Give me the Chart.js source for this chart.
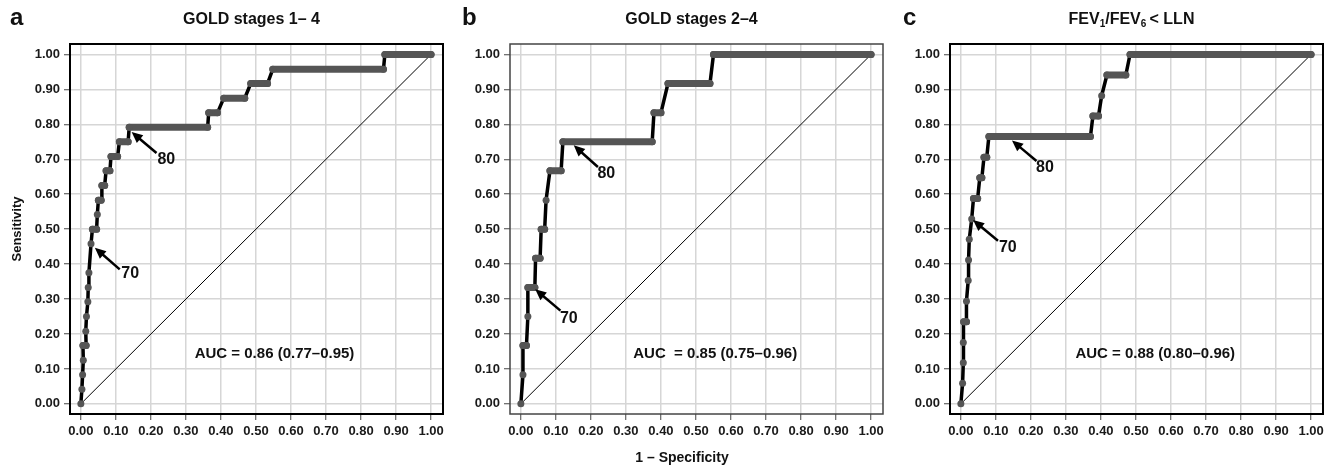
<!DOCTYPE html>
<html>
<head>
<meta charset="utf-8">
<script src="https://cdn.jsdelivr.net/npm/chart.js@4/dist/chart.umd.min.js"></script>
<style>
html, body { margin: 0; padding: 0; background: #fff; }
body { width: 1337px; height: 468px; position: relative; overflow: hidden; }
canvas { position: absolute; top: 0; }
</style>
</head>
<body>
<canvas id="chartA" width="451" height="468" style="left:0px"></canvas>
<canvas id="chartB" width="451" height="468" style="left:440px"></canvas>
<canvas id="chartC" width="451" height="468" style="left:880px"></canvas>
<script>
"use strict";

/*******************
	DATA
*******************/

var tickValues = [0, 0.1, 0.2, 0.3, 0.4, 0.5, 0.6, 0.7, 0.8, 0.9, 1.0];
var diagFpr = [0, 1];
var diagTpr = [0, 1];

// a: GOLD stages 1-4 (1 - specificity, sensitivity)
var fprA = [0, 0.003, 0.005, 0.007, 0.006, 0.015, 0.014, 0.016, 0.02, 0.021, 0.023, 0.029,
	0.033, 0.045, 0.047, 0.05, 0.058, 0.06, 0.068, 0.072, 0.083, 0.086, 0.105, 0.11, 0.135,
	0.138, 0.362, 0.365, 0.39, 0.408, 0.468, 0.485, 0.533, 0.548, 0.864, 0.868, 1.0];
var tprA = [0, 0.042, 0.083, 0.125, 0.167, 0.167, 0.208, 0.25, 0.292, 0.333, 0.375, 0.458,
	0.5, 0.5, 0.542, 0.583, 0.583, 0.625, 0.625, 0.667, 0.667, 0.708, 0.708, 0.75, 0.75,
	0.792, 0.792, 0.833, 0.833, 0.875, 0.875, 0.917, 0.917, 0.958, 0.958, 1.0, 1.0];

// b: GOLD stages 2-4
var fprB = [0, 0.006, 0.006, 0.016, 0.02, 0.02, 0.04, 0.042, 0.055, 0.058, 0.068, 0.072,
	0.083, 0.115, 0.12, 0.375, 0.38, 0.40, 0.42, 0.54, 0.55, 1.0];
var tprB = [0, 0.083, 0.167, 0.167, 0.25, 0.333, 0.333, 0.417, 0.417, 0.5, 0.5, 0.583,
	0.667, 0.667, 0.75, 0.75, 0.833, 0.833, 0.917, 0.917, 1.0, 1.0];

// c: FEV1/FEV6 < LLN
var fprC = [0, 0.005, 0.007, 0.007, 0.008, 0.016, 0.016, 0.021, 0.022, 0.024, 0.031,
	0.036, 0.048, 0.054, 0.06, 0.066, 0.074, 0.08, 0.37, 0.377, 0.393, 0.402, 0.417, 0.471,
	0.483, 1.0];
var tprC = [0, 0.059, 0.118, 0.176, 0.235, 0.235, 0.294, 0.353, 0.412, 0.471, 0.529,
	0.588, 0.588, 0.647, 0.647, 0.706, 0.706, 0.765, 0.765, 0.824, 0.824, 0.882, 0.941, 0.941,
	1.0, 1.0];

var FONT = '"Liberation Sans", Arial, Helvetica, sans-serif';

var panels = [
	{
		id: 'chartA', letter: 'a', letterX: 10,
		title: [{ t: 'GOLD stages 1– 4' }],
		fpr: fprA, tpr: tprA,
		auc: 'AUC = 0.86 (0.77–0.95)', aucAt: [0.325, 0.143],
		arrows: [
			{ label: '80', from: [0.216, 0.718], to: [0.145, 0.778], text: [0.244, 0.70] },
			{ label: '70', from: [0.111, 0.385], to: [0.04, 0.447], text: [0.141, 0.374] }
		],
		boxColor: '#000', boxWidth: 2, yTitle: true, xTitle: false
	},
	{
		id: 'chartB', letter: 'b', letterX: 22,
		title: [{ t: 'GOLD stages 2–4' }],
		fpr: fprB, tpr: tprB,
		auc: 'AUC  = 0.85 (0.75–0.96)', aucAt: [0.321, 0.143],
		arrows: [
			{ label: '80', from: [0.22, 0.678], to: [0.151, 0.74], text: [0.244, 0.659] },
			{ label: '70', from: [0.113, 0.267], to: [0.041, 0.328], text: [0.137, 0.245] }
		],
		boxColor: '#444', boxWidth: 1.5, yTitle: false, xTitle: true
	},
	{
		id: 'chartC', letter: 'c', letterX: 23,
		title: [{ t: 'FEV' }, { t: '1', sub: true }, { t: '/FEV' }, { t: '6', sub: true }, { t: '\u2009< LLN' }],
		fpr: fprC, tpr: tprC,
		auc: 'AUC = 0.88 (0.80–0.96)', aucAt: [0.327, 0.143],
		arrows: [
			{ label: '80', from: [0.216, 0.695], to: [0.146, 0.754], text: [0.24, 0.676] },
			{ label: '70', from: [0.106, 0.467], to: [0.035, 0.526], text: [0.134, 0.448] }
		],
		boxColor: '#000', boxWidth: 2, yTitle: false, xTitle: false
	}
];

/*******************
	HELPERS
*******************/

function toPoints(xs, ys) {
	return xs.map(function (x, i) { return { x: x, y: ys[i] }; });
}

// gray runs where the curve stays flat (dense threshold dots)
function plateauRuns(xs, ys) {
	var out = [];
	for (var i = 1; i < xs.length; i++) {
		if (ys[i] === ys[i - 1]) {
			out.push({ x: xs[i - 1], y: ys[i - 1] }, { x: xs[i], y: ys[i] }, { x: xs[i], y: null });
		}
	}
	return out;
}

function drawArrow(ctx, x1, y1, x2, y2) {
	var ang = Math.atan2(y2 - y1, x2 - x1);
	var head = 11, half = 5;
	var c = Math.cos(ang), s = Math.sin(ang);
	ctx.strokeStyle = '#000';
	ctx.lineWidth = 2.5;
	ctx.beginPath();
	ctx.moveTo(x1, y1);
	ctx.lineTo(x2 - c * head * 0.8, y2 - s * head * 0.8);
	ctx.stroke();
	ctx.fillStyle = '#000';
	ctx.beginPath();
	ctx.moveTo(x2, y2);
	ctx.lineTo(x2 - head * c + half * s, y2 - head * s - half * c);
	ctx.lineTo(x2 - head * c - half * s, y2 - head * s + half * c);
	ctx.closePath();
	ctx.fill();
}

function drawTitle(ctx, parts, cx, cy) {
	var big = 'bold 16px ' + FONT, small = 'bold 10px ' + FONT;
	var total = 0;
	parts.forEach(function (p) {
		ctx.font = p.sub ? small : big;
		p.w = ctx.measureText(p.t).width;
		total += p.w;
	});
	var x = cx - total / 2;
	ctx.textAlign = 'left';
	ctx.textBaseline = 'alphabetic';
	ctx.fillStyle = '#111';
	parts.forEach(function (p) {
		ctx.font = p.sub ? small : big;
		ctx.fillText(p.t, x, cy + 6 + (p.sub ? 3 : 0));
		x += p.w;
	});
}

var panelDecor = {
	id: 'panelDecor',
	afterDatasetsDraw: function (chart) {
		var p = chart.options.plugins.panelDecor.panel;
		var ctx = chart.ctx;
		var area = chart.chartArea;
		var xs = chart.scales.x, ys = chart.scales.y;
		ctx.save();

		// frame
		ctx.strokeStyle = p.boxColor;
		ctx.lineWidth = p.boxWidth;
		ctx.strokeRect(area.left, area.top, area.right - area.left, area.bottom - area.top);

		// arrows and cut-off labels
		p.arrows.forEach(function (a) {
			drawArrow(ctx, xs.getPixelForValue(a.from[0]), ys.getPixelForValue(a.from[1]),
				xs.getPixelForValue(a.to[0]), ys.getPixelForValue(a.to[1]));
			ctx.font = 'bold 16px ' + FONT;
			ctx.fillStyle = '#111';
			ctx.textAlign = 'center';
			ctx.textBaseline = 'middle';
			ctx.fillText(a.label, xs.getPixelForValue(a.text[0]), ys.getPixelForValue(a.text[1]));
		});

		// AUC
		ctx.font = 'bold 15px ' + FONT;
		ctx.textAlign = 'left';
		ctx.textBaseline = 'middle';
		ctx.fillStyle = '#111';
		ctx.fillText(p.auc, xs.getPixelForValue(p.aucAt[0]), ys.getPixelForValue(p.aucAt[1]));

		// panel letter and title
		ctx.font = 'bold 24px ' + FONT;
		ctx.textBaseline = 'alphabetic';
		ctx.fillText(p.letter, p.letterX, 25);
		drawTitle(ctx, p.title, (area.left + area.right) / 2 - 5, 18);

		if (p.yTitle) {
			ctx.save();
			ctx.translate(17, 229);
			ctx.rotate(-Math.PI / 2);
			ctx.font = 'bold 13px ' + FONT;
			ctx.textAlign = 'center';
			ctx.textBaseline = 'middle';
			ctx.fillText('Sensitivity', 0, 0);
			ctx.restore();
		}
		if (p.xTitle) {
			ctx.font = 'bold 14px ' + FONT;
			ctx.textAlign = 'center';
			ctx.textBaseline = 'middle';
			ctx.fillText('1 – Specificity', 242, 458);
		}
		ctx.restore();
	}
};

function axis(min, max, fit) {
	return {
		type: 'linear',
		min: min,
		max: max,
		afterBuildTicks: function (s) {
			s.ticks = tickValues.map(function (v) { return { value: v }; });
		},
		afterFit: fit,
		grid: { color: '#d6d6d6', lineWidth: 1.5, tickLength: 6, tickColor: '#444', tickWidth: 1 },
		border: { display: false },
		ticks: {
			callback: function (v) { return Number(v).toFixed(2); },
			font: { family: FONT, size: 13, weight: 'bold' },
			color: '#1a1a1a',
			padding: 4,
			maxRotation: 0,
			autoSkip: false
		}
	};
}

/*******************
	CHARTS
*******************/

panels.forEach(function (p) {
	var pts = toPoints(p.fpr, p.tpr);
	new Chart(document.getElementById(p.id), {
		type: 'scatter',
		data: {
			datasets: [
				{ data: pts, showLine: false, pointRadius: 3.5, pointBackgroundColor: '#555', pointBorderWidth: 0, order: 1 },
				{ data: plateauRuns(p.fpr, p.tpr), showLine: true, borderColor: '#555', borderWidth: 7,
					borderCapStyle: 'round', pointRadius: 0, spanGaps: false, order: 2 },
				{ data: pts, showLine: true, borderColor: '#000', borderWidth: 3.5, pointRadius: 0, order: 3 },
				{ data: toPoints(diagFpr, diagTpr), showLine: true, borderColor: '#000', borderWidth: 1, pointRadius: 0, order: 4 }
			]
		},
		options: {
			responsive: false,
			animation: false,
			devicePixelRatio: 1,
			layout: { padding: { top: 44, right: 8, bottom: 0, left: 0 } },
			plugins: {
				legend: { display: false },
				tooltip: { enabled: false },
				panelDecor: { panel: p }
			},
			scales: {
				x: axis(-0.031, 1.034, function (s) { s.height = 54; }),
				y: axis(-0.029, 1.03, function (s) { s.width = 70; })
			}
		},
		plugins: [panelDecor]
	});
});
</script>
</body>
</html>
